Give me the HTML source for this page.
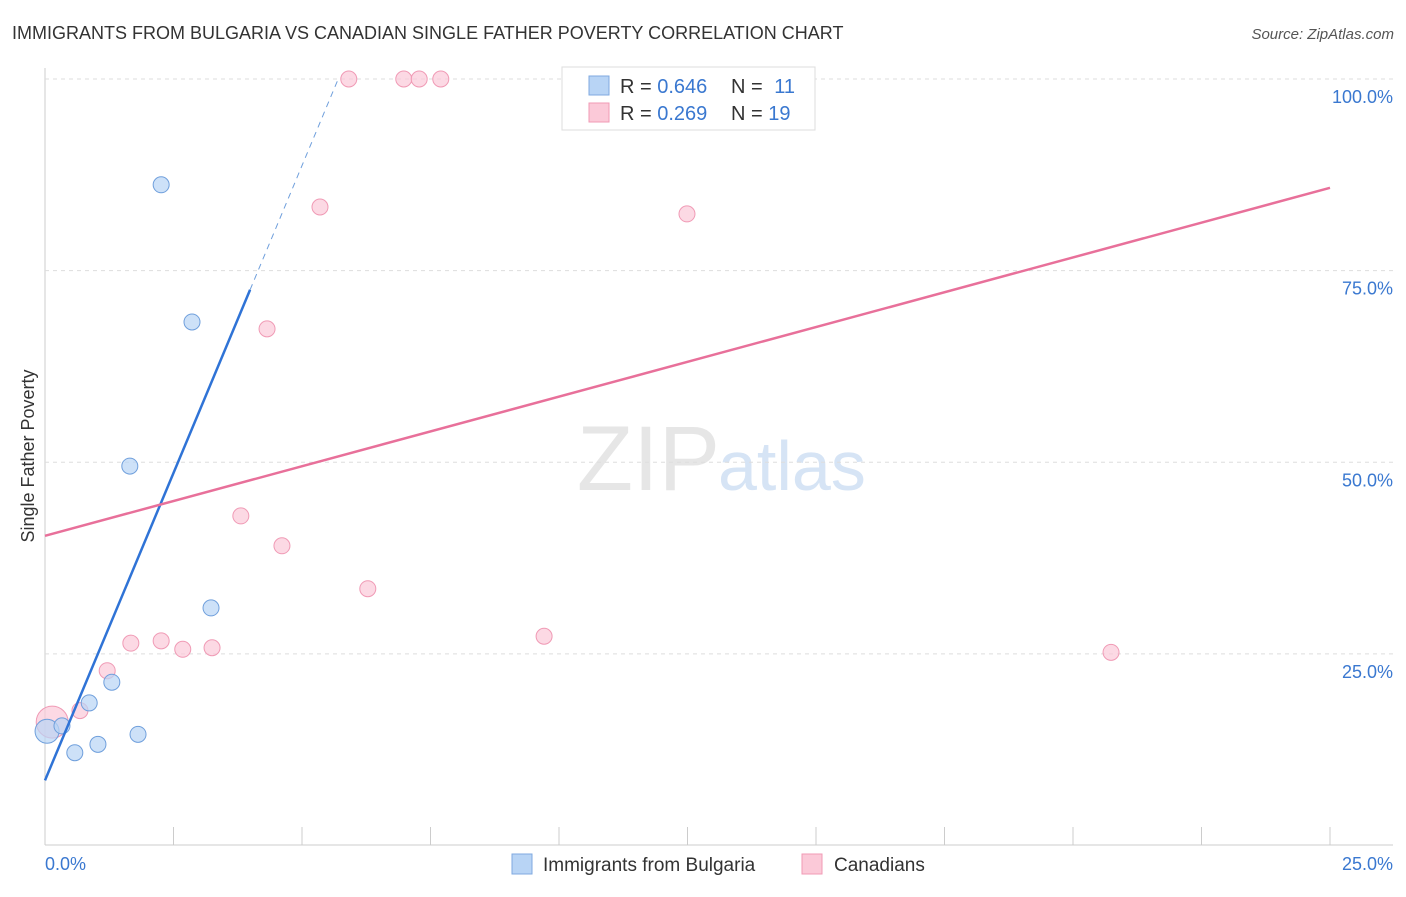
<!DOCTYPE html>
<html><head><meta charset="utf-8"><style>
body{margin:0;background:#fff;font-family:"Liberation Sans",sans-serif;}
svg text{font-family:"Liberation Sans",sans-serif;}
</style></head><body>
<svg id="c" width="1406" height="892" xmlns="http://www.w3.org/2000/svg">
<text x="12" y="39" font-size="18" fill="#333">IMMIGRANTS FROM BULGARIA VS CANADIAN SINGLE FATHER POVERTY CORRELATION CHART</text>
<text x="1394" y="39" font-size="15" fill="#555" text-anchor="end" font-style="italic">Source: ZipAtlas.com</text>
<text x="720" y="490" font-size="92" fill="#e6e6e6" text-anchor="end" font-family="Liberation Serif">ZIP</text>
<text x="718" y="490" font-size="70" fill="#d6e4f5">atlas</text>
<text transform="translate(34,456) rotate(-90)" font-size="18" fill="#333" text-anchor="middle">Single Father Poverty</text>
<g id="grid"></g><g id="marks"></g>
<g>
<rect x="562" y="67" width="253" height="63" fill="#fff" stroke="#ddd"/>
<rect x="589" y="76" width="20" height="19" fill="#b8d4f5" stroke="#7fa9e0"/>
<rect x="589" y="103" width="20" height="19" fill="#fbc9d8" stroke="#f09ab5"/>
<text x="620" y="93" font-size="20" fill="#333">R = <tspan fill="#3a78d0">0.646</tspan></text>
<text x="731" y="93" font-size="20" fill="#333">N = <tspan fill="#3a78d0" dx="6">11</tspan></text>
<text x="620" y="120" font-size="20" fill="#333">R = <tspan fill="#3a78d0">0.269</tspan></text>
<text x="731" y="120" font-size="20" fill="#333">N = <tspan fill="#3a78d0">19</tspan></text>
</g>
<g>
<rect x="512" y="854" width="20" height="20" fill="#b8d4f5" stroke="#7fa9e0"/>
<text x="543" y="871" font-size="19" fill="#333">Immigrants from Bulgaria</text>
<rect x="802" y="854" width="20" height="20" fill="#fbc9d8" stroke="#f09ab5"/>
<text x="834" y="871" font-size="19" fill="#333">Canadians</text>
</g>
</svg>
<script>
const blueX=[0.04,0.33,0.58,0.86,1.03,1.30,1.81,1.65,2.26,2.86,3.23];
const blueY=[14.9,15.6,12.1,18.6,13.2,21.3,14.5,49.5,86.2,68.3,31.0];
const pinkX=[0.14,0.68,1.21,1.67,2.26,2.68,3.25,3.81,4.61,4.32,5.35,6.28,5.91,6.98,7.28,7.70,9.71,12.49,20.74];
const pinkY=[16.1,17.6,22.8,26.4,26.7,25.6,25.8,43.0,39.1,67.4,83.3,33.5,100,100,100,100,27.3,82.4,25.2];
const blueLine=[8.5,16.04];
const pinkLine=[40.4,85.8];
const yTicks=[25,50,75,100];
const xTickLabels=["0.0%","25.0%"];
const X=v=>45+v/25*1285, Y=v=>845.5-v/100*766.5;
const NS="http://www.w3.org/2000/svg";
function mk(t,a,p){const e=document.createElementNS(NS,t);for(const k in a)e.setAttribute(k,a[k]);document.getElementById(p).appendChild(e);return e;}
let e;
e=mk('line',{x1:45,y1:68,x2:45,y2:845,stroke:'#ccc'},'grid');

e=mk('line',{x1:45,y1:845,x2:1393,y2:845,stroke:'#ccc'},'grid');

for(let i=0;i<=10;i++){e=mk('line',{x1:X(i*2.5),y1:827,x2:X(i*2.5),y2:845,stroke:'#ccc'},'grid');
}
yTicks.forEach(t=>{e=mk('line',{x1:45,y1:Y(t),x2:1393,y2:Y(t),stroke:'#ddd','stroke-dasharray':'4,4'},'grid');

e=mk('text',{x:1393,y:Y(t)+24,'font-size':18,fill:'#3a78d0','text-anchor':'end'},'grid');e.textContent=t.toFixed(1)+'%';
});
e=mk('text',{x:45,y:870,'font-size':18,fill:'#3a78d0'},'grid');e.textContent=xTickLabels[0];

e=mk('text',{x:1393,y:870,'font-size':18,fill:'#3a78d0','text-anchor':'end'},'grid');e.textContent=xTickLabels[1];

pinkX.forEach((x,i)=>{e=mk('circle',{cx:X(x),cy:Y(pinkY[i]),r:i==0?16:8,fill:'#fbc9d8','fill-opacity':0.7,stroke:'#f09ab5'},'marks');
});
blueX.forEach((x,i)=>{e=mk('circle',{cx:X(x),cy:Y(blueY[i]),r:i==0?12:8,fill:'#b8d4f5','fill-opacity':0.7,stroke:'#6f9fdc'},'marks');
});
const bx1=(72.5-blueLine[0])/blueLine[1], bx2=(100-blueLine[0])/blueLine[1];
e=mk('line',{x1:X(0),y1:Y(blueLine[0]),x2:X(bx1),y2:Y(blueLine[0]+blueLine[1]*bx1),stroke:'#2f73d6','stroke-width':2.5},'marks');

e=mk('line',{x1:X(bx1),y1:Y(blueLine[0]+blueLine[1]*bx1),x2:X(bx2),y2:Y(100),stroke:'#6f9fdc','stroke-width':1,'stroke-dasharray':'6,5'},'marks');

e=mk('line',{x1:X(0),y1:Y(pinkLine[0]),x2:X(25),y2:Y(pinkLine[1]),stroke:'#e8709a','stroke-width':2.5},'marks');

</script>
</body></html>
